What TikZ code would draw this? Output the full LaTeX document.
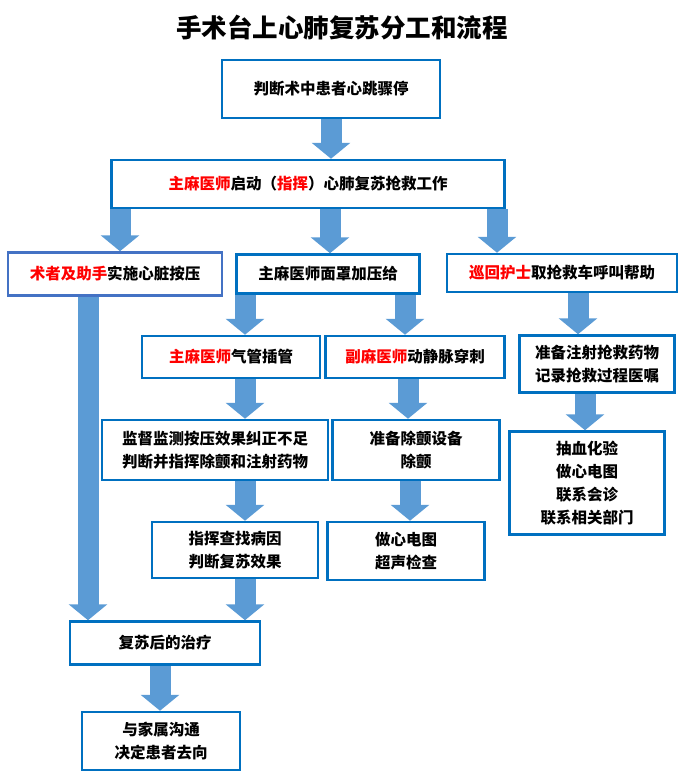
\documentclass[tikz,border=0pt]{standalone}
\usepackage{fontspec}
\setmainfont{Noto Sans CJK SC}
\usetikzlibrary{arrows.meta}
\definecolor{boxblue}{HTML}{0070C0}
\definecolor{softblue}{HTML}{4472C4}
\definecolor{arrowblue}{HTML}{5B9BD5}
\newcommand{\hl}[1]{\textcolor{red}{#1}}
\begin{document}
\begin{tikzpicture}[x=1pt,y=-1pt,
    box/.style = {draw=boxblue, line width=2.5pt, fill=white, align=center,
                  inner sep=0pt, font=\fontsize{15.5}{23}\selectfont\bfseries},
    flow/.style = {arrowblue, line width=21pt, -{Triangle[width=38pt,length=16pt]}}]
    \useasboundingbox (0,0) rectangle (688,781);
    \node[font=\fontsize{25.5}{30}\selectfont\bfseries] (title) at (342,28) {手术台上心肺复苏分工和流程};
    % first column of boxes
    \node[box, minimum width=218pt, minimum height=58pt] (stop) at (331,89) {判断术中患者心跳骤停};
    \node[box, minimum width=393pt, minimum height=48pt] (start) at (308,184) {\hl{主麻医师}启动（\hl{指挥}）心肺复苏抢救工作};
    \node[box, draw=softblue, minimum width=214pt, minimum height=43pt] (press) at (115,274) {\hl{术者及助手}实施心脏按压};
    \node[box, minimum width=183pt, minimum height=39pt] (mask) at (328,274) {主麻医师面罩加压给};
    \node[box, minimum width=230pt, minimum height=38pt] (nurse) at (562,273) {\hl{巡回护士}取抢救车呼叫帮助};
    \node[box, minimum width=178pt, minimum height=42pt] (tube) at (231,357) {\hl{主麻医师}气管插管};
    \node[box, minimum width=179pt, minimum height=42pt] (vein) at (415,357) {\hl{副麻医师}动静脉穿刺};
    \node[box, minimum width=155pt, minimum height=57pt] (drug) at (597,364) {准备注射抢救药物\\记录抢救过程医嘱};
    \node[box, minimum width=155pt, minimum height=103pt] (lab) at (587,483) {抽血化验\\做心电图\\联系会诊\\联系相关部门};
    \node[box, minimum width=226pt, minimum height=60pt] (watch) at (215,450) {监督监测按压效果纠正不足\\判断并指挥除颤和注射药物};
    \node[box, minimum width=167pt, minimum height=60pt] (defib) at (416,450) {准备除颤设备\\除颤};
    \node[box, minimum width=166pt, minimum height=56pt] (cause) at (235,550) {指挥查找病因\\判断复苏效果};
    \node[box, minimum width=157pt, minimum height=58pt] (ecg) at (406,551) {做心电图\\超声检查};
    \node[box, minimum width=190pt, minimum height=43pt] (care) at (165,643) {复苏后的治疗};
    \node[box, minimum width=158pt, minimum height=58pt] (family) at (161,741) {与家属沟通\\决定患者去向};
    % block arrows
    \draw[flow] (stop.south) -- (stop.south |- start.north);
    \draw[flow] ([xshift=-188pt]start.south) -- ([xshift=-188pt]start.south |- press.north);
    \draw[flow] ([xshift=22pt]start.south) -- ([xshift=22pt]start.south |- mask.north);
    \draw[flow] ([xshift=189pt]start.south) -- ([xshift=189pt]start.south |- nurse.north);
    \draw[flow] ([xshift=-83pt]mask.south) -- ([xshift=-83pt]mask.south |- tube.north);
    \draw[flow] ([xshift=77pt]mask.south) -- ([xshift=77pt]mask.south |- vein.north);
    \draw[flow] ([xshift=16pt]nurse.south) -- ([xshift=16pt]nurse.south |- drug.north);
    \draw[flow] ([xshift=-12pt]drug.south) -- ([xshift=-12pt]drug.south |- lab.north);
    \draw[flow] ([xshift=14pt]tube.south) -- ([xshift=14pt]tube.south |- watch.north);
    \draw[flow] ([xshift=-7pt]vein.south) -- ([xshift=-7pt]vein.south |- defib.north);
    \draw[flow] ([xshift=30pt]watch.south) -- ([xshift=30pt]watch.south |- cause.north);
    \draw[flow] ([xshift=-6pt]defib.south) -- ([xshift=-6pt]defib.south |- ecg.north);
    \draw[flow] ([xshift=-27pt]press.south) -- ([xshift=-27pt]press.south |- care.north);
    \draw[flow] ([xshift=10pt]cause.south) -- ([xshift=10pt]cause.south |- care.north);
    \draw[flow] ([xshift=-5pt]care.south) -- ([xshift=-5pt]care.south |- family.north);
\end{tikzpicture}
\end{document}
